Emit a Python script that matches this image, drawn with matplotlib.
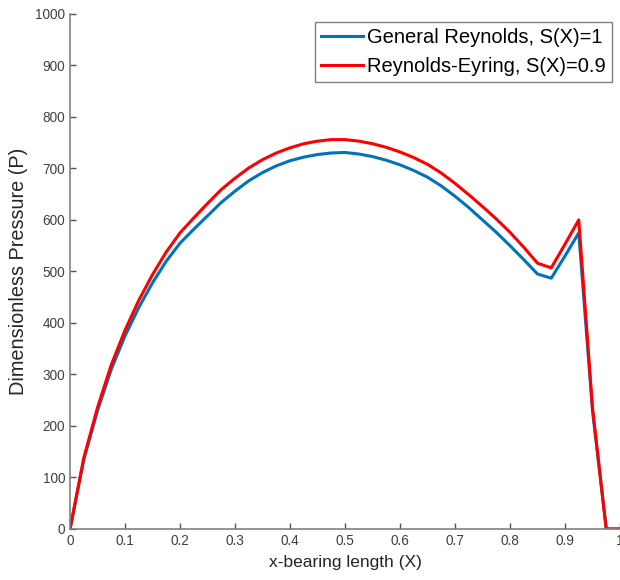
import numpy as np
import matplotlib
matplotlib.use("Agg")
import matplotlib.pyplot as plt

# bearing length positions (step 0.025)
x = np.round(np.arange(0, 1.0001, 0.025), 3)

p_general = [0, 135, 230, 310, 375, 430, 478, 520, 555, 582,
             608, 634, 656, 676, 692, 705, 715, 722, 727, 730,
             731, 728, 723, 716, 707, 696, 683, 666, 646, 624,
             600, 576, 550, 523, 495, 487, 530, 575, 230, 0, 0]
p_eyring = [0, 138, 236, 319, 386, 444, 494, 538, 575, 604,
            632, 659, 681, 701, 717, 730, 740, 748, 753, 756,
            756, 753, 748, 741, 732, 721, 708, 691, 671, 649,
            626, 602, 576, 547, 516, 507, 553, 600, 235, 0, 0]

plt.rcParams['font.family'] = ['Liberation Sans', 'DejaVu Sans']

fig = plt.figure(figsize=(6.2, 5.8), dpi=100)
ax = fig.add_axes([0.113, 0.088, 0.887, 0.888])

ax.plot(x, p_general, color='#0072BD', lw=2.2, label='General Reynolds, S(X)=1')
ax.plot(x, p_eyring, color='#FF0000', lw=2.2, label='Reynolds-Eyring, S(X)=0.9')

ax.set_xlim(0, 1)
ax.set_ylim(0, 1000)
ax.set_xticks(np.arange(0, 1.01, 0.1))
ax.set_xticklabels(['0', '0.1', '0.2', '0.3', '0.4', '0.5', '0.6', '0.7', '0.8', '0.9', '1'])
ax.set_yticks(np.arange(0, 1001, 100))

for s in ['top', 'right']:
    ax.spines[s].set_visible(False)
for s in ['left', 'bottom']:
    ax.spines[s].set_color('#808080')
    ax.spines[s].set_linewidth(1.2)
ax.tick_params(direction='in', colors='#555555', labelsize=9.8, length=4, width=1)
for lab in ax.get_xticklabels() + ax.get_yticklabels():
    lab.set_color('#404040')

ax.set_xlabel('x-bearing length (X)', fontsize=12.5, color='#262626', labelpad=5)
ax.set_ylabel('Dimensionless Pressure (P)', fontsize=14.3, color='#262626', labelpad=5)

leg = ax.legend(loc='upper right', fontsize=14.5, fancybox=False, framealpha=1,
                edgecolor='#808080', handlelength=2.1, handletextpad=0.2,
                borderpad=0.3, labelspacing=0.5, borderaxespad=0.4)
leg.get_frame().set_linewidth(1)

fig.savefig('out.png', dpi=100)
